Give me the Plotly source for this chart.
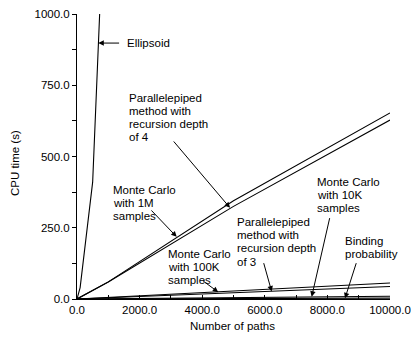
import plotly.graph_objects as go

# CPU time (s) against number of paths for each method
ellipsoid_paths = [0, 100, 500, 1000]
ellipsoid_time = [0, 40, 410, 1730]

paths = [0, 100, 500, 1000, 5000, 10000]
mc_1m_time = [0, 6, 30, 60, 345, 653]
para_depth4_time = [0, 6, 30, 60, 325, 628]
mc_100k_time = [0, 0.6, 2.8, 5.6, 28, 56]
para_depth3_time = [0, 0.4, 2.2, 4.4, 22, 44]
mc_10k_time = [0, 0.1, 0.5, 1.0, 5.0, 9.5]
binding_time = [0, 0.03, 0.15, 0.3, 1.5, 3.0]

x_ticks = [0, 2000, 4000, 6000, 8000, 10000]
y_ticks = [0, 250, 500, 750, 1000]

FONT = "Liberation Sans, Arial, sans-serif"
FS = 11.5

fig = go.Figure()
series = [
    (ellipsoid_paths, ellipsoid_time),
    (paths, mc_1m_time),
    (paths, para_depth4_time),
    (paths, mc_100k_time),
    (paths, para_depth3_time),
    (paths, mc_10k_time),
    (paths, binding_time),
]
for xs, ys in series:
    fig.add_trace(go.Scatter(x=xs, y=ys, mode="lines",
                             line=dict(color="black", width=1.1),
                             showlegend=False, hoverinfo="skip"))

# Labels: lines of text (left-anchored), plus an arrow from tail to the curve
labels = [
    # (lines, left x, first-line y, line step in y, arrow tail, arrow head)
    (["Ellipsoid"], 1534, 898, 45, (1393, 898), (681, 898)),
    (["Parallelepiped", "method with", "recursion depth", "of 4"],
     1588, 705, 45.5, (3050, 558), (4888, 320)),
    (["Monte Carlo", "with 1M", "samples"], 1086, 382, 46, (2332, 316), (3185, 218)),
    (["Monte Carlo", "with 100K", "samples"], 2843, 158, 46.5, (3984, 67), (4514, 24)),
    (["Parallelepiped", "method with", "recursion depth", "of 3"],
     5048, 271, 46.5, (5952, 131), (6220, 26)),
    (["Monte Carlo", "with 10K", "samples"], 7604, 412, 47, (8083, 289), (7498, 8)),
    (["Binding", "probability"], 8508, 205, 47, (8936, 131), (8562, 2.5)),
]

for lines, lx, ly, step, tail, head in labels:
    for i, t in enumerate(lines):
        fig.add_annotation(x=lx, y=ly - i * step, xref="x", yref="y", text=t,
                           showarrow=False, xanchor="left", yanchor="middle",
                           font=dict(family=FONT, size=FS, color="black"))
    fig.add_annotation(x=head[0], y=head[1], ax=tail[0], ay=tail[1],
                       xref="x", yref="y", axref="x", ayref="y", text="",
                       showarrow=True, arrowhead=2, arrowsize=1.1, arrowwidth=1,
                       arrowcolor="black", standoff=0, startstandoff=0)

# Axis titles
fig.add_annotation(x=-0.198, y=0.477, xref="paper", yref="paper", text="CPU time (s)",
                   textangle=-90, showarrow=False, xanchor="center", yanchor="middle",
                   font=dict(family=FONT, size=FS, color="black"))
fig.add_annotation(x=0.498, y=-0.095, xref="paper", yref="paper", text="Number of paths",
                   showarrow=False, xanchor="center", yanchor="middle",
                   font=dict(family=FONT, size=FS, color="black"))

fig.update_layout(
    width=411, height=337,
    margin=dict(l=77, r=21, t=14, b=38),
    plot_bgcolor="white", paper_bgcolor="white",
    font=dict(family=FONT, size=FS, color="black"),
    xaxis=dict(range=[0, 10000], tickvals=x_ticks, tickformat=".1f",
               showgrid=False, zeroline=False, showline=True, linecolor="black",
               linewidth=1, ticks="inside", ticklen=4, tickcolor="black",
               minor=dict(dtick=1000, ticks="inside", ticklen=4, tickcolor="black"),
               ticklabelstandoff=0, automargin=False),
    yaxis=dict(range=[0, 1000], tickvals=y_ticks, tickformat=".1f",
               showgrid=False, zeroline=False, showline=True, linecolor="black",
               linewidth=1, ticks="outside", ticklen=4, tickcolor="black",
               minor=dict(dtick=125, ticks="outside", ticklen=4, tickcolor="black"),
               automargin=False),
)

fig.write_html("out.html")
